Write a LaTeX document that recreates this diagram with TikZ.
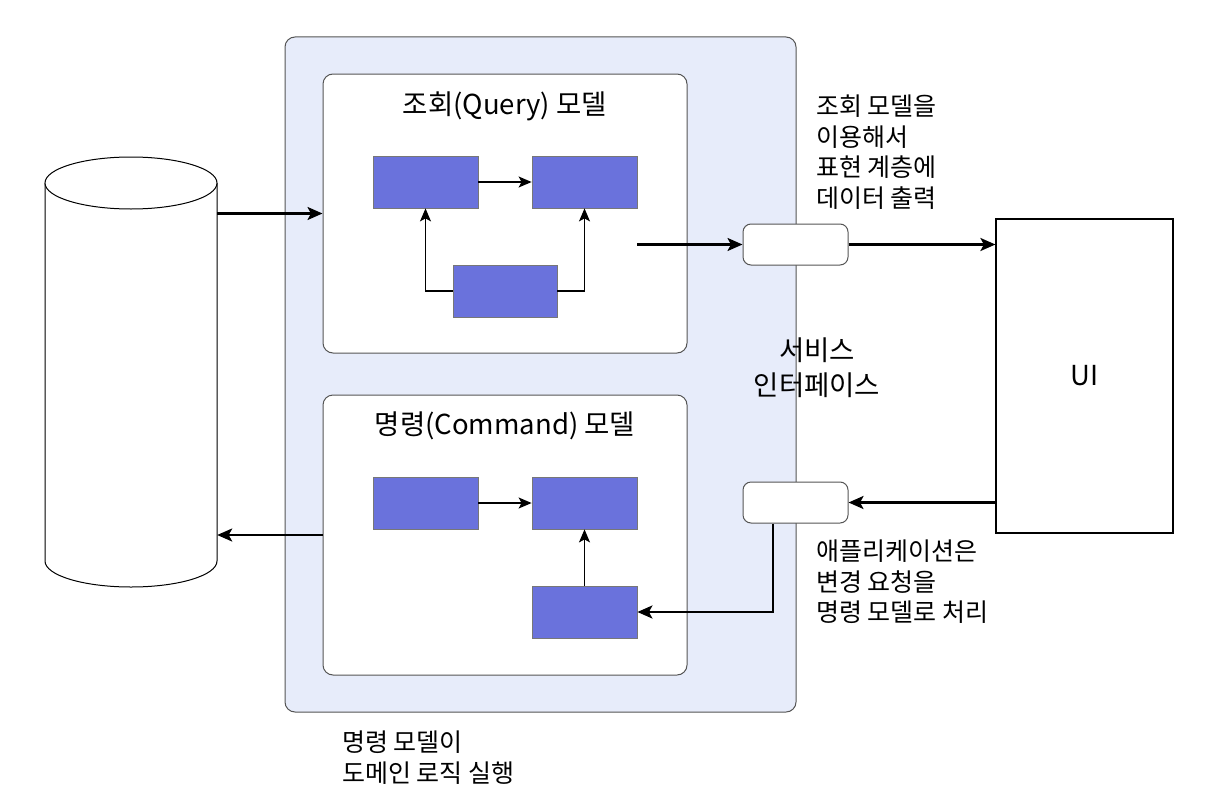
\documentclass[tikz,border=0pt]{standalone}
\usepackage{fontspec}
\setmainfont{Noto Sans CJK KR}
\usetikzlibrary{arrows.meta}
\definecolor{panel}{RGB}{231,236,250}
\definecolor{blk}{RGB}{106,114,220}
\definecolor{edge}{RGB}{85,85,85}
\begin{document}
\begin{tikzpicture}[x=1pt,y=-1pt,
  panelbox/.style={draw=edge, line width=1pt, fill=panel, rounded corners=10pt, inner sep=0pt},
  modelbox/.style={draw=edge, line width=1pt, fill=white, rounded corners=10pt, inner sep=0pt, minimum width=364pt},
  blkbox/.style={draw=edge!80, line width=0.8pt, fill=blk, inner sep=0pt, minimum width=105pt, minimum height=52pt},
  sibox/.style={draw=edge, line width=1pt, fill=white, rounded corners=8pt, inner sep=0pt, minimum width=105pt, minimum height=41pt},
  uibox/.style={draw=black, line width=1.2pt, fill=white, inner sep=0pt, minimum width=177pt, minimum height=314pt},
  mainarrow/.style={line width=2.4pt, -{Stealth[length=15pt,width=13pt,inset=3.5pt]}},
  innerarrow/.style={line width=1.4pt, -{Stealth[length=13pt,width=11pt,inset=3pt]}},
  title/.style={font=\fontsize{27.5}{33}\selectfont, inner sep=0pt},
  note/.style={font=\fontsize{25}{30.5}\selectfont, align=left, inner sep=0pt, anchor=north west}
]
\useasboundingbox (0,0) rectangle (1206,800);
\fill[white] (0,0) rectangle (1206,800);

% database cylinder
\node[inner sep=0pt, minimum width=172pt, minimum height=430pt] (db) at (131,372) {};
\draw[line width=1pt, fill=white] (45,183) -- (45,561) arc[start angle=180, end angle=0, x radius=86, y radius=26] -- (217,183);
\draw[line width=1pt, fill=white] (131,183) ellipse [x radius=86, y radius=26];

% big panel
\node[panelbox, minimum width=511pt, minimum height=675pt] (panel) at (540.5,374.5) {};

% query model
\node[modelbox, minimum height=279pt] (q) at (505,213.5) {};
\node[title] (qt) at (505,106) {조회(Query) 모델};
\node[blkbox] (a) at (425.5,182) {};
\node[blkbox] (b) at (584.5,182) {};
\node[blkbox, minimum width=104pt] (c) at (505,291) {};
\draw[innerarrow] (a) -- (b);
\draw[innerarrow] (c.west) -| (a.south);
\draw[innerarrow] (c.east) -| (b.south);

% command model
\node[modelbox, minimum height=280pt] (cm) at (505,535) {};
\node[title] (ct) at (505,426) {명령(Command) 모델};
\node[blkbox] (d) at (425.5,503) {};
\node[blkbox] (e) at (584.5,503) {};
\node[blkbox] (f) at (584.5,612) {};
\draw[innerarrow] (d) -- (e);
\draw[innerarrow] (f) -- (e);

% service interfaces
\node[sibox] (si1) at (795.5,244.5) {};
\node[sibox] (si2) at (795.5,502.5) {};

% UI
\node[uibox] (ui) at (1084.5,376) {};
\node[title] (uit) at (ui.center) {UI};

% arrows
\draw[mainarrow] (q.west -| db.east) -- (q.west);
\draw[mainarrow] (cm.west) -- (cm.west -| db.east);
\draw[mainarrow] (si1.west -| b.east) -- (si1.west);
\draw[mainarrow] (si1.east) -- (si1.east -| ui.west);
\draw[mainarrow] (si2.east -| ui.west) -- (si2.east);
\coordinate (sidrop) at ([xshift=-22.5pt]si2.south);
\draw[mainarrow] (sidrop) |- (f.east);

% labels
\node[note] (n1) at (816,95) {조회 모델을\\이용해서\\표현 계층에\\데이터 출력};
\node[title, align=center, font=\fontsize{27.5}{35}\selectfont] (n2) at (817,368) {서비스\\인터페이스};
\node[note] (n3) at (816,540) {애플리케이션은\\변경 요청을\\명령 모델로 처리};
\node[note] (n4) at (342,731) {명령 모델이\\도메인 로직 실행};
\end{tikzpicture}
\end{document}
